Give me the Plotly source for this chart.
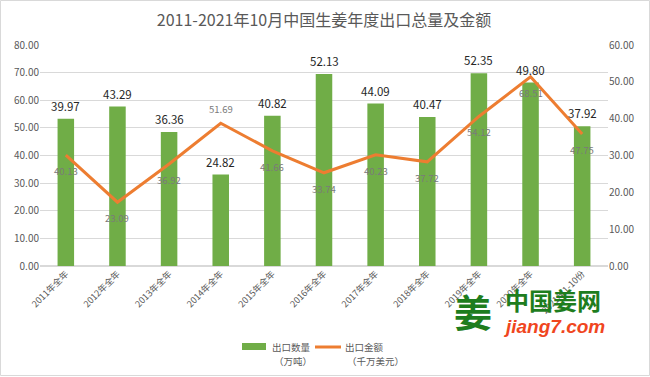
import plotly.graph_objects as go

categories = ["2011年全年", "2012年全年", "2013年全年", "2014年全年", "2015年全年",
              "2016年全年", "2017年全年", "2018年全年", "2019年全年", "2020年全年",
              "2021年1-10份"]
export_volume = [39.97, 43.29, 36.36, 24.82, 40.82, 52.13, 44.09, 40.47, 52.35, 49.80, 37.92]
export_value = [40.13, 23.09, 36.92, 51.69, 41.66, 33.74, 40.23, 37.72, 54.12, 68.51, 47.75]
line_label_below = [True, True, True, False, True, True, True, True, True, True, True]

FONT = "Noto Sans CJK SC"
W, H = 650, 377
ML, MR, MT, MB = 40, 42, 45, 111
GREEN = "#70AD47"
ORANGE = "#ED7D31"

fig = go.Figure()
# bars on the (main) right-side axis so the line overlay is drawn on top
fig.add_trace(go.Bar(
    x=categories, y=export_volume, yaxis="y",
    name="出口数量（万吨）", marker=dict(color=GREEN, line=dict(width=0)),
    width=0.32, showlegend=False,
))
fig.add_trace(go.Scatter(
    x=categories, y=export_value, yaxis="y2",
    name="出口金额（千万美元）", mode="lines",
    line=dict(color=ORANGE, width=3), showlegend=False,
))

pw = W - ML - MR
ph = H - MT - MB
def px(x): return (x - ML) / pw
def py(y): return (H - MB - y) / ph

fig.update_layout(
    width=W, height=H,
    margin=dict(l=ML, r=MR, t=MT, b=MB),
    paper_bgcolor="white", plot_bgcolor="white",
    font=dict(family=FONT, color="#595959", size=9),
    title=dict(text="2011-2021年10月中国生姜年度出口总量及金额", x=0.5, xanchor="center",
               xref="paper", y=1 - 20 / H, yanchor="middle",
               font=dict(size=16, color="#595959", family=FONT)),
    xaxis=dict(tickangle=-45, showgrid=False, showline=False, ticks="", automargin=False,
               tickfont=dict(size=9, color="#595959")),
    yaxis=dict(range=[0, 60], dtick=10, tickformat=".2f", side="right",
               showgrid=False, zeroline=False, showline=False, ticks="", automargin=False,
               tickfont=dict(size=10, color="#595959")),
    yaxis2=dict(range=[0, 80], dtick=10, tickformat=".2f", overlaying="y", side="left",
                showgrid=True, gridcolor="#d9d9d9", zeroline=True, zerolinecolor="#d9d9d9",
                showline=False, ticks="", automargin=False,
                tickfont=dict(size=10, color="#595959")),
    showlegend=False,
)

# bar data labels
for c, v in zip(categories, export_volume):
    fig.add_annotation(x=c, y=v, xref="x", yref="y", text=f"{v:.2f}", showarrow=False,
                       xanchor="center", yanchor="middle",
                       yshift=13, font=dict(size=11.5, color="#262626", family=FONT))
# line data labels
for c, v, below in zip(categories, export_value, line_label_below):
    fig.add_annotation(x=c, y=v, xref="x", yref="y2", text=f"{v:.2f}", showarrow=False,
                       xanchor="center", yanchor="middle",
                       yshift=-16 if below else 14,
                       font=dict(size=9.5, color="#7a7a7a", family=FONT))

# legend (drawn manually to match the two-line layout)
fig.add_shape(type="rect", xref="paper", yref="paper", x0=px(242), x1=px(266),
              y0=py(350), y1=py(343), fillcolor=GREEN, line=dict(width=0))
fig.add_shape(type="line", xref="paper", yref="paper", x0=px(315), x1=px(341),
              y0=py(347), y1=py(347), line=dict(color=ORANGE, width=3))
for x, t1, t2 in [(270, "出口数量", "（万吨）"), (343, "出口金额", "（千万美元）")]:
    fig.add_annotation(xref="paper", yref="paper", x=px(x), y=py(346.5), text=t1,
                       xanchor="left", yanchor="middle", showarrow=False,
                       font=dict(size=9.5, color="#595959", family=FONT))
    fig.add_annotation(xref="paper", yref="paper", x=px(x + 2), y=py(360.5), text=t2,
                       xanchor="left", yanchor="middle", showarrow=False,
                       font=dict(size=9.5, color="#595959", family=FONT))

# watermark logo as text
fig.add_annotation(text="<b>姜</b>", xref="paper", yref="paper", x=px(473), y=py(310),
                   xanchor="center", yanchor="middle",
                   showarrow=False, font=dict(size=38, color="#1e7d1e", family=FONT))
fig.add_annotation(text="<b>中国姜网</b>", xref="paper", yref="paper", x=px(553), y=py(299),
                   xanchor="center", yanchor="middle",
                   showarrow=False, font=dict(size=24, color="#1e7d1e", family=FONT))
fig.add_annotation(text="<b><i>jiang7.com</i></b>", xref="paper", yref="paper", x=px(554), y=py(326),
                   xanchor="center", yanchor="middle",
                   showarrow=False, font=dict(size=19, color="#f0461e", family="Liberation Sans"))

# outer frame
fig.add_shape(type="rect", xref="paper", yref="paper",
              x0=px(0.5), x1=px(W - 0.5), y0=py(H - 1.5), y1=py(0.5),
              line=dict(color="#d9d9d9", width=1), fillcolor="rgba(0,0,0,0)", layer="below")

fig.write_html("out.html", config={"displayModeBar": False},
               post_script="document.body.style.margin='0';")
